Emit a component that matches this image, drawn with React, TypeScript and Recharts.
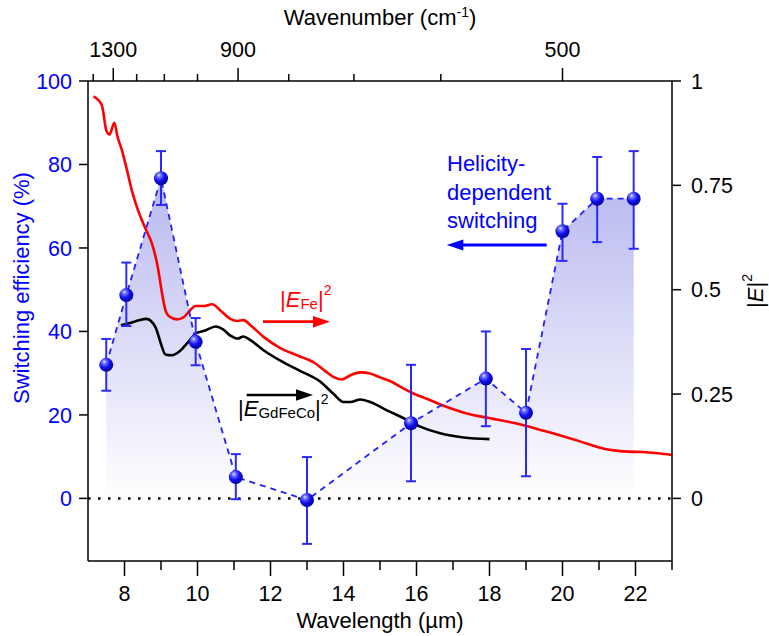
import React from 'react';
import { ComposedChart, Line, Area, XAxis, YAxis, ReferenceLine, ErrorBar } from 'recharts';

const FONT = '"Liberation Sans", Arial, sans-serif';
const BLUE = '#0000ff';

// switching efficiency (%), left axis
const effWavelength = [7.5, 8.05, 9.0, 9.95, 11.05, 13.0, 15.85, 17.9, 19.0, 20.0, 20.95, 21.95];
const effValue = [32, 48.7, 76.7, 37.5, 5.1, -0.4, 18.0, 28.7, 20.5, 64.0, 71.8, 71.8];
const effErrLow = [6.2, 7.4, 6.4, 5.6, 5.3, 10.5, 13.9, 11.4, 15.2, 7.1, 10.4, 12.0];
const effErrHigh = [6.2, 7.8, 6.5, 5.7, 5.5, 10.3, 14.0, 11.3, 15.3, 6.6, 10.0, 11.4];

// |E_Fe|^2, right axis
const feWavelength = [
  7.15, 7.38, 7.5, 7.59, 7.72, 7.81, 7.93, 8.07, 8.2, 8.34, 8.57, 8.75, 8.91, 9.03, 9.12, 9.21,
  9.44, 9.62, 9.8, 9.94, 10.17, 10.4, 10.62, 10.9, 11.1, 11.26, 11.45, 11.81, 12.27, 12.72, 13.2,
  13.5, 13.75, 13.95, 14.19, 14.46, 14.73, 15.0, 15.3, 15.65, 15.9, 16.3, 16.8, 17.3, 18.2, 18.8,
  19.4, 19.9, 20.5, 21.0, 21.4, 21.8, 22.2, 22.6, 23.0,
];
const feField = [
  0.963, 0.942, 0.882, 0.872, 0.9, 0.866, 0.834, 0.786, 0.738, 0.698, 0.647, 0.611, 0.555, 0.491,
  0.451, 0.437, 0.429, 0.434, 0.451, 0.461, 0.461, 0.465, 0.451, 0.43, 0.425, 0.427, 0.415, 0.387,
  0.36, 0.343, 0.325, 0.305, 0.29, 0.285, 0.295, 0.302, 0.299, 0.29, 0.28, 0.263, 0.252, 0.238,
  0.22, 0.205, 0.189, 0.178, 0.164, 0.152, 0.136, 0.122, 0.115, 0.112, 0.111, 0.108, 0.104,
];

// |E_GdFeCo|^2, right axis
const gdWavelength = [
  7.9, 8.15, 8.4, 8.6, 8.85, 9.0, 9.12, 9.3, 9.5, 9.75, 9.95, 10.2, 10.5, 10.7, 10.9, 11.1, 11.26,
  11.45, 11.81, 12.27, 12.82, 13.36, 13.73, 14.0, 14.19, 14.46, 14.73, 15.19, 15.65, 16.1, 16.65,
  17.29, 18.0,
];
const gdField = [
  0.415, 0.42, 0.427, 0.43, 0.41, 0.37, 0.345, 0.343, 0.352, 0.375, 0.395, 0.402, 0.412, 0.405,
  0.39, 0.383, 0.388, 0.379, 0.355, 0.33, 0.305, 0.28, 0.25, 0.231, 0.231, 0.237, 0.231, 0.211,
  0.192, 0.172, 0.156, 0.146, 0.142,
];

const bottomTicks = [8, 9, 10, 11, 12, 13, 14, 15, 16, 17, 18, 19, 20, 21, 22, 23];
const bottomLabels = [8, 10, 12, 14, 16, 18, 20, 22];
const topWavenumbers = [1400, 1300, 1200, 1100, 1000, 900, 800, 700, 600, 500];
const topLabels = [1300, 900, 500];
const leftTicks = [0, 20, 40, 60, 80, 100];
const rightTicks = [0, 0.25, 0.5, 0.75, 1];

const effData = effWavelength.map((w, i) => ({ w, eff: effValue[i], err: [effErrLow[i], effErrHigh[i]] }));
const feData = feWavelength.map((w, i) => ({ w, fe: feField[i] }));
const gdData = gdWavelength.map((w, i) => ({ w, gd: gdField[i] }));
const topTicks = topWavenumbers.map((k) => 10000 / k);

const BottomTick = (props: any) => {
  const { x, y, payload } = props;
  const major = bottomLabels.includes(payload.value);
  return (
    <g>
      <line x1={x} x2={x} y1={y} y2={y + (major ? 15 : 9)} stroke="#000" strokeWidth={1.5} />
      {major && (
        <text x={x} y={y + 40} textAnchor="middle" fontSize={21.5} fill="#000" fontFamily={FONT}>
          {payload.value}
        </text>
      )}
    </g>
  );
};

const TopTick = (props: any) => {
  const { x, y, payload } = props;
  const wn = Math.round(10000 / payload.value);
  const major = topLabels.includes(wn);
  return (
    <g>
      <line x1={x} x2={x} y1={y} y2={y - (major ? 13 : 7)} stroke="#000" strokeWidth={1.5} />
      {major && (
        <text x={x} y={y - 24} textAnchor="middle" fontSize={21.5} fill="#000" fontFamily={FONT}>
          {wn}
        </text>
      )}
    </g>
  );
};

const sphere = (props: any) => (
  <circle key={`dot-${props.index}`} cx={props.cx} cy={props.cy} r={7} fill="url(#sphere)" />
);

export default function App() {
  return (
    <div style={{ position: 'absolute', left: 0, top: 0, width: 769, height: 636, background: '#fff', fontFamily: FONT }}>
      <ComposedChart width={769} height={636} margin={{ top: 0, right: 0, bottom: 0, left: 0 }}>
        <defs>
          <linearGradient id="effFill" x1="0" y1="0" x2="0" y2="1">
            <stop offset="0%" stopColor="#b8b8f0" />
            <stop offset="100%" stopColor="#ffffff" />
          </linearGradient>
          <radialGradient id="sphere" cx="0.4" cy="0.35" r="0.7" fx="0.35" fy="0.28">
            <stop offset="0%" stopColor="#eeeeff" />
            <stop offset="18%" stopColor="#7a7aff" />
            <stop offset="55%" stopColor="#1010f0" />
            <stop offset="100%" stopColor="#00008a" />
          </radialGradient>
        </defs>
        <XAxis
          xAxisId="b"
          type="number"
          dataKey="w"
          domain={[7, 23]}
          allowDataOverflow
          ticks={bottomTicks}
          interval={0}
          height={75}
          tickLine={false}
          tickSize={0}
          tickMargin={0}
          tick={(p: any) => <BottomTick {...p} />}
          axisLine={{ stroke: '#000', strokeWidth: 1.5 }}
        />
        <XAxis
          xAxisId="t"
          orientation="top"
          type="number"
          dataKey="w"
          domain={[7, 23]}
          allowDataOverflow
          ticks={topTicks}
          interval={0}
          height={81}
          tickLine={false}
          tickSize={0}
          tickMargin={0}
          tick={(p: any) => <TopTick {...p} />}
          axisLine={{ stroke: '#000', strokeWidth: 1.5 }}
        />
        <YAxis
          yAxisId="left"
          type="number"
          domain={[-15, 100]}
          allowDataOverflow
          ticks={leftTicks}
          interval={0}
          width={88}
          tickSize={9}
          tickMargin={7}
          tick={{ fill: BLUE, fontSize: 21.5, fontFamily: FONT }}
          tickLine={{ stroke: '#000', strokeWidth: 1.5 }}
          axisLine={{ stroke: '#000', strokeWidth: 1.5 }}
        />
        <YAxis
          yAxisId="right"
          orientation="right"
          type="number"
          domain={[-0.15, 1]}
          allowDataOverflow
          ticks={rightTicks}
          interval={0}
          width={97}
          tickSize={9}
          tickMargin={10}
          tickFormatter={(v: number) => String(v)}
          tick={{ fill: '#000', fontSize: 21.5, fontFamily: FONT }}
          tickLine={{ stroke: '#000', strokeWidth: 1.5 }}
          axisLine={{ stroke: '#000', strokeWidth: 1.5 }}
        />
        <Area
          data={effData}
          xAxisId="b"
          yAxisId="left"
          dataKey="eff"
          type="linear"
          baseValue={0}
          stroke="none"
          fill="url(#effFill)"
          fillOpacity={1}
          isAnimationActive={false}
        />
        <ReferenceLine yAxisId="left" xAxisId="b" y={0} stroke="#000" strokeWidth={2.5} strokeDasharray="2.5 7.5" />
        <Line
          data={feData}
          xAxisId="b"
          yAxisId="right"
          dataKey="fe"
          type="monotone"
          stroke="#ff0000"
          strokeWidth={2.6}
          dot={false}
          isAnimationActive={false}
        />
        <Line
          data={gdData}
          xAxisId="b"
          yAxisId="right"
          dataKey="gd"
          type="monotone"
          stroke="#000"
          strokeWidth={2.6}
          dot={false}
          isAnimationActive={false}
        />
        <Line
          data={effData}
          xAxisId="b"
          yAxisId="left"
          dataKey="eff"
          type="linear"
          stroke="#1f1fff"
          strokeWidth={1.8}
          strokeDasharray="6 5"
          dot={sphere}
          activeDot={false}
          isAnimationActive={false}
        >
          <ErrorBar dataKey="err" direction="y" width={5} stroke="#2a2aff" strokeWidth={2} />
        </Line>
      </ComposedChart>
      <svg width={769} height={636} style={{ position: 'absolute', left: 0, top: 0, pointerEvents: 'none' }} fontFamily={FONT}>
        <text x={380} y={25} textAnchor="middle" fontSize={22} fill="#000">
          Wavenumber (cm<tspan fontSize={14} dy={-8}>-1</tspan>
          <tspan fontSize={22} dy={8}>)</tspan>
        </text>
        <text x={380} y={628} textAnchor="middle" fontSize={22} fill="#000">
          Wavelength (µm)
        </text>
        <text x={29} y={288} textAnchor="middle" fontSize={22} fill={BLUE} transform="rotate(-90 29 288)">
          Switching efficiency (%)
        </text>
        <text x={763} y={291} textAnchor="middle" fontSize={22} fill="#000" transform="rotate(-90 763 291)">
          |<tspan fontStyle="italic">E</tspan>|<tspan fontSize={14} dy={-11}>2</tspan>
        </text>

        <text x={280} y={306.7} fontSize={22} fill="#ff0000">
          |<tspan fontStyle="italic">E</tspan>
          <tspan fontSize={15} dy={2}>Fe</tspan>
          <tspan dy={-2}>|</tspan>
          <tspan fontSize={14} dy={-12}>2</tspan>
        </text>
        <line x1={263} y1={321.7} x2={318} y2={321.7} stroke="#ff0000" strokeWidth={2.7} />
        <polygon points="330,321.7 313,315.9 313,327.5" fill="#ff0000" />

        <text x={238} y={416} fontSize={22} fill="#000">
          |<tspan fontStyle="italic">E</tspan>
          <tspan fontSize={15} dy={2}>GdFeCo</tspan>
          <tspan dy={-2}>|</tspan>
          <tspan fontSize={14} dy={-12}>2</tspan>
        </text>
        <line x1={246.7} y1={395} x2={301} y2={395} stroke="#000" strokeWidth={2.7} />
        <polygon points="313,395 296,389.2 296,400.8" fill="#000" />

        <text x={447} fontSize={22} fill={BLUE}>
          <tspan x={447} y={171}>Helicity-</tspan>
          <tspan x={447} y={199.5}>dependent</tspan>
          <tspan x={447} y={227.5}>switching</tspan>
        </text>
        <line x1={458} y1={245} x2={546.7} y2={245} stroke={BLUE} strokeWidth={3.2} />
        <polygon points="446.7,245 463.3,239.5 463.3,250.5" fill={BLUE} />
      </svg>
    </div>
  );
}
